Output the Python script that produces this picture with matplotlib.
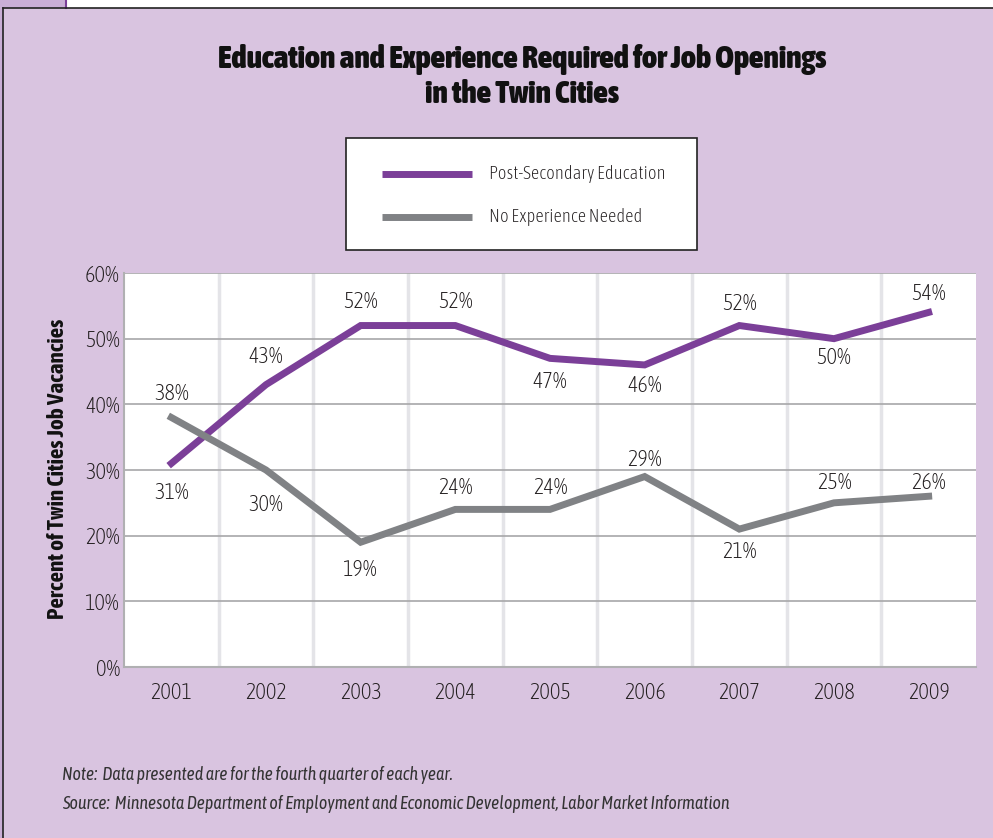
import matplotlib
matplotlib.use("Agg")
import matplotlib.pyplot as plt
from matplotlib.patches import Rectangle
from matplotlib.lines import Line2D

years = ["2001", "2002", "2003", "2004", "2005", "2006", "2007", "2008", "2009"]
post_secondary = [31, 43, 52, 52, 47, 46, 52, 50, 54]
no_experience = [38, 30, 19, 24, 24, 29, 21, 25, 26]
yticks = [0, 10, 20, 30, 40, 50, 60]

# label offsets from the data point, in pixels (negative = above)
post_label_dy = [30, -28, -24, -24, 24, 21, -22, 19, -18]
noexp_label_dy = [-23, 35, 28, -21, -21, -17, 23, -20, -13]

plt.rcParams["font.family"] = ["Asap Condensed", "DejaVu Sans"]

BG = "#d9c4e0"
PURPLE = "#7b3f98"
GRAY = "#808285"
TXT = "#231f20"
W, H = 993, 838
PT = 0.72  # points per pixel at dpi 100

fig = plt.figure(figsize=(W / 100, H / 100), dpi=100)
fig.patch.set_facecolor("white")

def fx(px):
    return px / W

def fy(py):
    return 1 - py / H

# background panels
fig.add_artist(Rectangle((fx(3), 0), 1 - fx(3), fy(8), transform=fig.transFigure,
                         facecolor=BG, edgecolor="none", zorder=0))
fig.add_artist(Rectangle((0, fy(8)), fx(66), 8 / H, transform=fig.transFigure,
                         facecolor="#c9aed6", edgecolor="none", zorder=0))
fig.add_artist(Rectangle((0, 0), fx(3), fy(8), transform=fig.transFigure,
                         facecolor="#c9aed6", edgecolor="none", zorder=0))
fig.add_artist(Line2D([fx(66), fx(66)], [fy(8), 1], transform=fig.transFigure,
                      color=PURPLE, lw=1.5))
fig.add_artist(Line2D([fx(3), 1], [fy(8), fy(8)], transform=fig.transFigure,
                      color="#222222", lw=1.2))
fig.add_artist(Line2D([fx(3), fx(3)], [0, fy(8)], transform=fig.transFigure,
                      color="#222222", lw=1.2))

ax = fig.add_axes([fx(124), fy(667), fx(976) - fx(124), fy(273) - fy(667)])
ax.set_facecolor("white")
x = list(range(len(years)))

# grid
for yv in yticks[1:]:
    ax.axhline(yv, color="#a7a7a9", lw=1.2, zorder=1)
for b in range(1, len(years)):
    ax.axvline(b - 0.5, color="#e4e4e8", lw=2.5, zorder=0.5)

ax.plot(x, post_secondary, color=PURPLE, lw=5, solid_joinstyle="miter", zorder=3)
ax.plot(x, no_experience, color=GRAY, lw=5, solid_joinstyle="miter", zorder=3)

for series, offs in [(post_secondary, post_label_dy), (no_experience, noexp_label_dy)]:
    for xi, v, d in zip(x, series, offs):
        ax.annotate(f"{v}%", (xi, v), xytext=(0, -d * PT), textcoords="offset points",
                    ha="center", va="center", fontsize=16, fontweight="light",
                    color=TXT, zorder=4)

ax.set_xlim(-0.5, len(years) - 0.5)
ax.set_ylim(0, 60)
ax.set_xticks(x)
ax.set_xticklabels(years, fontsize=16, fontweight="light", color=TXT)
ax.set_yticks(yticks)
ax.set_yticklabels([f"{t}%" for t in yticks], fontsize=16, fontweight="light", color=TXT)
ax.tick_params(length=0, pad=3)
ax.tick_params(axis="x", pad=11)
for s in ["top", "right"]:
    ax.spines[s].set_visible(False)
for s in ["left", "bottom"]:
    ax.spines[s].set_color("#b0b0b2")
    ax.spines[s].set_linewidth(1.5)

fig.text(fx(58), fy(469), "Percent of Twin Cities Job Vacancies", rotation=90,
         ha="center", va="center", fontsize=16.7, fontweight="bold", color="#111111")

fig.text(fx(522), fy(77), "Education and Experience Required for Job Openings\nin the Twin Cities",
         ha="center", va="center", fontsize=22.8, fontweight="black", color="#111111",
         linespacing=1.2)

# legend box
fig.add_artist(Rectangle((fx(346), fy(250)), fx(697) - fx(346), (250 - 138) / H,
                         transform=fig.transFigure, facecolor="white",
                         edgecolor="#222222", lw=1.2, zorder=2))
for py, col, lab in [(174, PURPLE, "Post-Secondary Education"), (217, GRAY, "No Experience Needed")]:
    fig.add_artist(Line2D([fx(382), fx(472)], [fy(py), fy(py)], transform=fig.transFigure,
                          color=col, lw=5, solid_capstyle="butt", zorder=3))
    fig.text(fx(489), fy(py), lab, ha="left", va="center", fontsize=13.4,
             fontweight="light", color=TXT, zorder=4)

fig.text(fx(62), fy(775), "Note:  Data presented are for the fourth quarter of each year.",
         ha="left", va="center", fontsize=12.9, fontweight="light", style="italic", color="#333333")
fig.text(fx(62), fy(804), "Source:  Minnesota Department of Employment and Economic Development, Labor Market Information",
         ha="left", va="center", fontsize=12.9, fontweight="light", style="italic", color="#333333")

fig.savefig("out.png", dpi=100, facecolor=fig.get_facecolor())
